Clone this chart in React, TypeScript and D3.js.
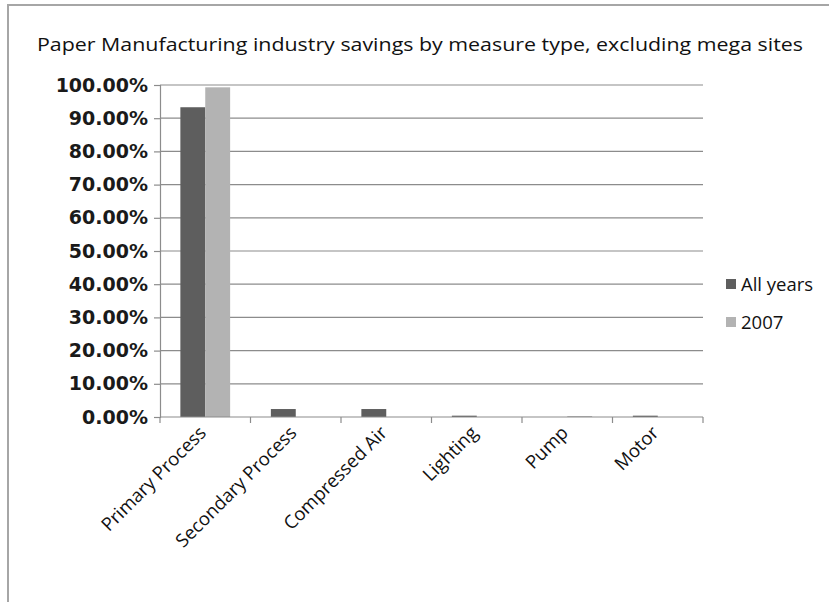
import React, { useEffect, useRef } from 'react';
import * as d3 from 'd3';

const categories = ['Primary Process', 'Secondary Process', 'Compressed Air', 'Lighting', 'Pump', 'Motor'];
const seriesNames = ['All years', '2007'];
const allYears = [93.3, 2.4, 2.4, 0.4, 0, 0.4];
const year2007 = [99.3, 0, 0, 0, 0.3, 0];
const yTicks = [0, 10, 20, 30, 40, 50, 60, 70, 80, 90, 100];
const colors = ['#5e5e5e', '#b3b3b3'];

const W = 829;
const H = 602;

const App = () => {
  const svgRef = useRef<SVGSVGElement>(null);

  useEffect(() => {
    const svg = d3.select(svgRef.current);
    svg.selectAll('*').remove();

    const margin = { top: 85, left: 160, right: 126, bottom: 185 };
    const innerW = W - margin.left - margin.right;
    const innerH = H - margin.top - margin.bottom;

    svg.append('rect').attr('width', W).attr('height', H).attr('fill', '#fff');
    // chart frame (only top and left edges show)
    svg.append('rect').attr('x', 8).attr('y', 5).attr('width', W + 10).attr('height', H + 10)
      .attr('fill', 'none').attr('stroke', '#a6a6a6').attr('stroke-width', 2);

    svg.append('text')
      .attr('x', 420).attr('y', 51)
      .attr('text-anchor', 'middle')
      .attr('font-family', '"Open Sans", sans-serif')
      .attr('font-size', 19)
      .attr('textLength', 766)
      .attr('lengthAdjust', 'spacingAndGlyphs')
      .attr('fill', '#111')
      .text('Paper Manufacturing  industry  savings by measure type, excluding mega sites');

    const g = svg.append('g').attr('transform', `translate(${margin.left},${margin.top})`);

    const y = d3.scaleLinear().domain([0, 100]).range([innerH, 0]);
    const x0 = d3.scaleBand<string>().domain(categories).range([0, innerW]);
    const gap = x0.bandwidth() * 0.225;
    const x1 = d3.scaleBand<string>().domain(seriesNames).range([gap, x0.bandwidth() - gap]);

    // gridlines
    g.append('g').selectAll('line').data(yTicks.slice(1)).join('line')
      .attr('x1', 0).attr('x2', innerW)
      .attr('y1', d => y(d)).attr('y2', d => y(d))
      .attr('stroke', '#8c8c8c').attr('stroke-width', 1.2);

    const yAxis = g.append('g').call(
      d3.axisLeft(y).tickValues(yTicks).tickSize(6).tickPadding(6).tickFormat(d => `${(+d).toFixed(2)}%`)
    );
    yAxis.select('.domain').attr('stroke', '#8c8c8c').attr('stroke-width', 1.2);
    yAxis.selectAll('.tick line').attr('stroke', '#8c8c8c').attr('stroke-width', 1.2);
    yAxis.selectAll('.tick text')
      .attr('font-family', '"DejaVu Sans", sans-serif')
      .attr('font-size', 19)
      .attr('font-weight', 'bold')
      .attr('fill', '#1a1a1a');

    const rows = categories.map((c, i) => ({ c, vals: [allYears[i], year2007[i]] }));
    g.append('g').selectAll('g').data(rows).join('g')
      .attr('transform', d => `translate(${x0(d.c)},0)`)
      .selectAll('rect')
      .data(d => d.vals.map((v, k) => ({ k, v })))
      .join('rect')
      .attr('x', d => x1(seriesNames[d.k])!)
      .attr('width', x1.bandwidth())
      .attr('y', d => y(d.v))
      .attr('height', d => innerH - y(d.v))
      .attr('fill', d => colors[d.k]);

    // x axis with boundary ticks
    const xAxis = g.append('g').attr('transform', `translate(0,${innerH})`);
    xAxis.append('line').attr('x1', 0).attr('x2', innerW).attr('stroke', '#8c8c8c').attr('stroke-width', 1.2);
    const bounds = [...categories.map(c => x0(c)!), innerW];
    xAxis.selectAll('line.tk').data(bounds).join('line').attr('class', 'tk')
      .attr('x1', d => d).attr('x2', d => d).attr('y1', 0).attr('y2', 6)
      .attr('stroke', '#8c8c8c').attr('stroke-width', 1.2);
    xAxis.selectAll('text').data(categories).join('text')
      .attr('transform', d => `translate(${x0(d)! + x0.bandwidth() / 2 + 2},${17}) rotate(-45)`)
      .attr('text-anchor', 'end')
      .attr('font-family', '"Open Sans", sans-serif')
      .attr('font-size', 18.5)
      .attr('fill', '#111')
      .text(d => d);

    // legend
    const leg = svg.append('g').attr('transform', 'translate(726,279)');
    seriesNames.forEach((s, i) => {
      const row = leg.append('g').attr('transform', `translate(0,${i * 38})`);
      row.append('rect').attr('width', 10).attr('height', 10).attr('fill', colors[i]);
      row.append('text').attr('x', 15).attr('y', 12)
        .attr('font-family', '"Open Sans", sans-serif')
        .attr('font-size', 18.5)
        .attr('fill', '#111')
        .text(s);
    });
  }, []);

  return (
    <svg ref={svgRef} width={W} height={H} style={{ position: 'absolute', left: 0, top: 0 }}></svg>
  );
};

export default App;
